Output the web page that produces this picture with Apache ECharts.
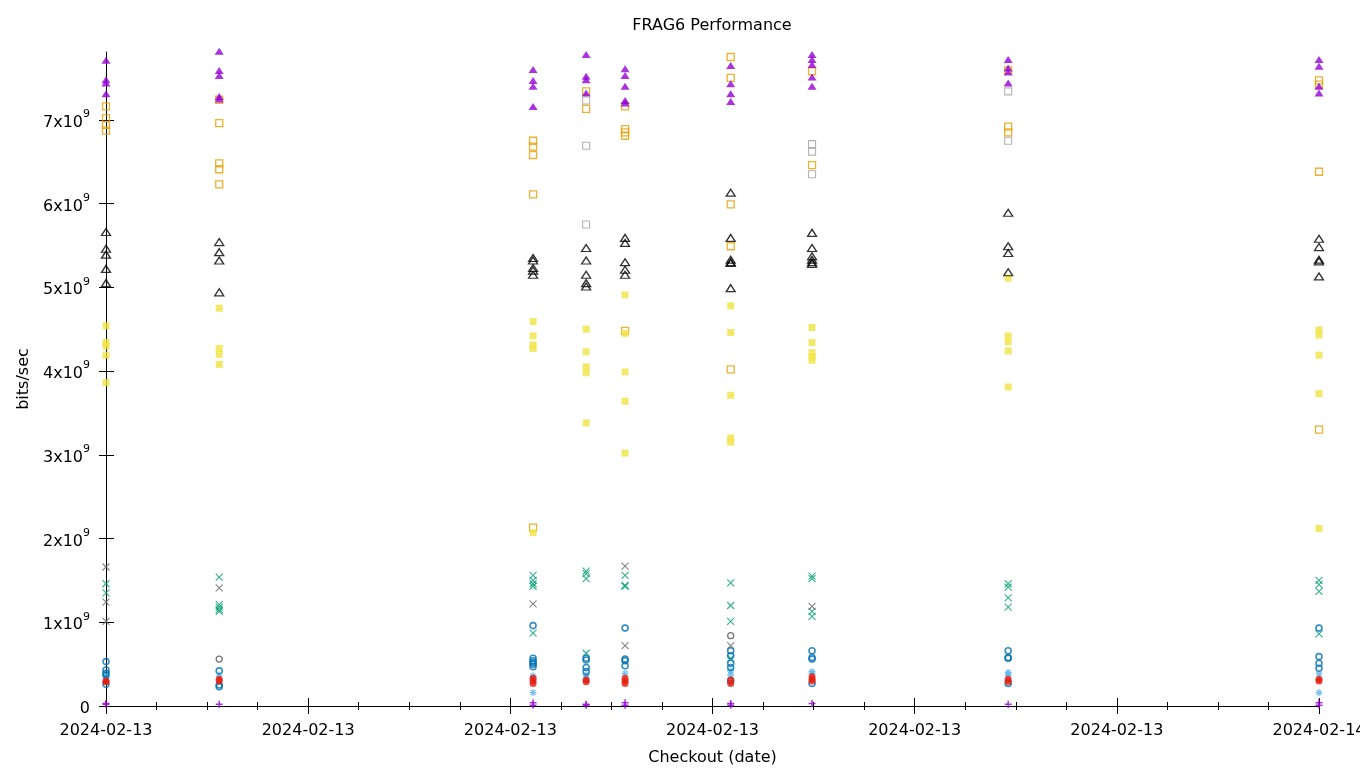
<!DOCTYPE html>
<html>
<head>
<meta charset="utf-8">
<script src="https://cdn.jsdelivr.net/npm/echarts@6/dist/echarts.min.js"></script>
<style>
html,body{margin:0;padding:0;background:#fff;}
#chart{width:1360px;height:768px;}
</style>
</head>
<body>
<div id="chart"></div>
<script>
// Checkout times: hours after 2024-02-13 00:00
const checkoutHours = [0, 2.24, 8.45, 9.50, 10.27, 12.36, 13.97, 17.85, 24];
const xTickLabels = ['2024-02-13','2024-02-13','2024-02-13','2024-02-13','2024-02-13','2024-02-13','2024-02-14'];
const yTickValues = [0, 1, 2, 3, 4, 5, 6, 7]; // units of 10^9 bits/sec

// Series values (10^9 bits/sec), one list per checkout
const plusPurple = [[0.03,0.02],[0.02],[0.04,0.01],[0.02,0.01],[0.04,0.01],[0.03,0.01],[0.03],[0.02],[0.04,0.01]];
const xGreen = [[1.46,1.35],[1.54,1.21,1.18,1.15,1.13],[1.56,1.50,1.46,1.43,0.87],[1.61,1.58,1.52,0.63],[1.56,1.44,1.43],[1.47,1.20,1.01,0.57],[1.55,1.52,1.13,1.07],[1.46,1.42,1.29,1.18],[1.50,1.45,1.37,0.86]];
const starBlue = [[0.36,0.33],[0.36],[0.36,0.33,0.16],[0.37,0.33],[0.39],[0.42,0.37],[0.41,0.39],[0.40,0.37],[0.38,0.16]];
const sqOrange = [[7.16,7.02,6.94,6.87],[7.24,6.96,6.48,6.41,6.23],[6.75,6.68,6.58,6.11,2.13],[7.34,7.13],[7.16,6.89,6.85,6.81,4.48],[7.75,7.50,5.99,5.49,4.02],[7.58,6.46],[7.59,6.92,6.85],[7.47,7.42,6.38,3.30]];
const sqYellow = [[4.54,4.34,4.30,4.19,3.86],[4.75,4.27,4.20,4.08],[4.59,4.42,4.31,4.27,2.07],[4.50,4.23,4.05,3.98,3.38],[4.91,4.45,3.99,3.64,3.02],[4.78,4.46,3.71,3.20,3.15],[4.52,4.34,4.22,4.17,4.13],[5.11,4.42,4.35,4.24,3.81],[4.49,4.43,4.19,3.73,2.12]];
const circBlue = [[0.53,0.43,0.39,0.37,0.26],[0.42,0.25,0.23],[0.96,0.57,0.54,0.52,0.50,0.47],[0.57,0.55,0.46,0.41],[0.93,0.56,0.54,0.48],[0.66,0.60,0.51,0.46,0.30],[0.66,0.58,0.56,0.27],[0.66,0.58,0.57,0.27],[0.93,0.59,0.51,0.45]];
const circRed = [[0.30,0.29],[0.32,0.30],[0.33,0.30,0.27],[0.31,0.29],[0.33,0.30,0.27],[0.31,0.27],[0.35,0.32,0.30],[0.32,0.29],[0.32,0.30]];
const triBlack = [[5.66,5.46,5.39,5.22,5.05],[5.54,5.42,5.32,4.94],[5.35,5.32,5.23,5.20,5.15],[5.47,5.32,5.15,5.05,5.01],[5.59,5.53,5.30,5.21,5.15],[6.13,5.59,5.33,5.30,5.29,4.99],[5.65,5.47,5.37,5.33,5.30,5.28],[5.89,5.49,5.41,5.18],[5.58,5.48,5.33,5.31,5.13]];
const triPurple = [[7.71,7.48,7.44,7.31],[7.82,7.59,7.53,7.28,7.25],[7.60,7.47,7.40,7.16],[7.78,7.52,7.48,7.32],[7.61,7.53,7.40,7.23,7.20],[7.65,7.43,7.31,7.22],[7.78,7.72,7.66,7.51,7.40],[7.72,7.62,7.57,7.44],[7.72,7.64,7.40,7.32]];
const sqGray = [[],[],[],[7.23,6.69,5.75],[],[],[6.71,6.62,6.35],[7.34,6.75],[]];
const xGray = [[1.66,1.24,1.01],[1.41],[1.22],[],[1.67,0.72],[0.72],[1.19],[],[]];
const circGray = [[],[0.56],[],[],[],[0.84],[],[],[]];

function pts(arr){
  const out = [];
  arr.forEach((vals,i)=>vals.forEach(v=>out.push([checkoutHours[i], v])));
  return out;
}

const P_PLUS = 'path://M5,0L5,10M0,5L10,5';
const P_X = 'path://M0,0L10,10M0,10L10,0';
const P_STAR = 'path://M5,0L5,10M0,5L10,5M1.5,1.5L8.5,8.5M1.5,8.5L8.5,1.5';

function mk(name, data, symbol, size, color, filled, bw){
  return {
    name: name, type: 'scatter', data: pts(data), symbol: symbol, symbolSize: size,
    clip: false, silent: true,
    itemStyle: filled ? {color: color, borderWidth: 0}
                      : {color: 'rgba(0,0,0,0)', borderColor: color, borderWidth: bw || 1},
  };
}

const series = [
  mk('s1', plusPurple, P_PLUS, 7, '#9400d3', false, 1.5),
  mk('s2', xGreen, P_X, 7, '#009e73', false, 1.1),
  mk('s3', starBlue, P_STAR, 7, '#56b4e9', false, 1.3),
  mk('s4', sqOrange, 'rect', 7, '#e69f00', false, 1.3),
  mk('s5', sqYellow, 'rect', 7, '#f0e442', true),
  mk('s6', circBlue, 'circle', 6, '#0072b2', false, 1.6),
  mk('s7', circRed, 'circle', 7, '#e51e10', true),
  mk('s8', triBlack, 'triangle', [9, 7], '#000000', false, 1.3),
  mk('s9', triPurple, 'triangle', [9, 7], '#9400d3', true),
  mk('s10', sqGray, 'rect', 7, '#a0a0a0', false, 1.1),
  mk('s11', xGray, P_X, 7, '#666666', false, 1.1),
  mk('s12', circGray, 'circle', 6, '#555555', false, 1.3),
];

const FONT = 'DejaVu Sans';
const chart = echarts.init(document.getElementById('chart'), null, {renderer: 'canvas'});
chart.setOption({
  animation: false,
  backgroundColor: '#ffffff',
  textStyle: {fontFamily: FONT},
  title: {
    text: 'FRAG6 Performance', left: 707, top: 13, textAlign: 'center',
    textStyle: {fontFamily: FONT, fontSize: 16, fontWeight: 'normal', color: '#000'}
  },
  grid: {left: 106, right: 41, top: 52, bottom: 62, containLabel: false, outerBoundsMode: 'none'},
  xAxis: [{
    type: 'value', min: 0, max: 24, interval: 4, position: 'bottom',
    name: 'Checkout (date)', nameLocation: 'middle', nameGap: 44,
    nameTextStyle: {fontFamily: FONT, fontSize: 16, color: '#000'},
    axisLine: {show: true, lineStyle: {color: '#000', width: 1}},
    axisTick: {show: true, inside: false, length: 8, lineStyle: {color: '#000'}},
    minorTick: {show: true, splitNumber: 4, length: 4, lineStyle: {color: '#000'}},
    splitLine: {show: false}, minorSplitLine: {show: false},
    axisLabel: {fontFamily: FONT, fontSize: 16, color: '#000', margin: 17,
      formatter: v => xTickLabels[Math.round(v / 4)]}
  }, {
    type: 'value', min: 0, max: 24, interval: 4, position: 'top',
    axisLine: {show: false},
    axisTick: {show: true, inside: false, length: 8, lineStyle: {color: '#000'}},
    minorTick: {show: true, splitNumber: 4, length: 4, lineStyle: {color: '#000'}},
    splitLine: {show: false}, axisLabel: {show: false}
  }],
  yAxis: [{
    type: 'value', min: 0, max: 7.81, position: 'left',
    name: 'bits/sec', nameLocation: 'middle', nameGap: 72, nameRotate: 90,
    nameTextStyle: {fontFamily: FONT, fontSize: 16, color: '#000'},
    axisLine: {show: true, lineStyle: {color: '#000', width: 1}},
    axisTick: {show: true, inside: false, length: 7, lineStyle: {color: '#000'}, customValues: yTickValues},
    splitLine: {show: false},
    axisLabel: {
      customValues: yTickValues, margin: 16, color: '#000',
      formatter: v => v === 0 ? '{b|0}' : '{b|' + v + 'x10}{s|9}',
      rich: {
        b: {fontFamily: FONT, fontSize: 16, color: '#000', lineHeight: 22, verticalAlign: 'bottom'},
        s: {fontFamily: FONT, fontSize: 11, color: '#000', lineHeight: 22, verticalAlign: 'top'}
      }
    }
  }, {
    type: 'value', min: 0, max: 7.81, position: 'right',
    axisLine: {show: false},
    axisTick: {show: true, inside: false, length: 8, lineStyle: {color: '#000'}, customValues: yTickValues},
    splitLine: {show: false},
    axisLabel: {show: false, customValues: yTickValues}
  }],
  series: series
});
</script>
</body>
</html>
